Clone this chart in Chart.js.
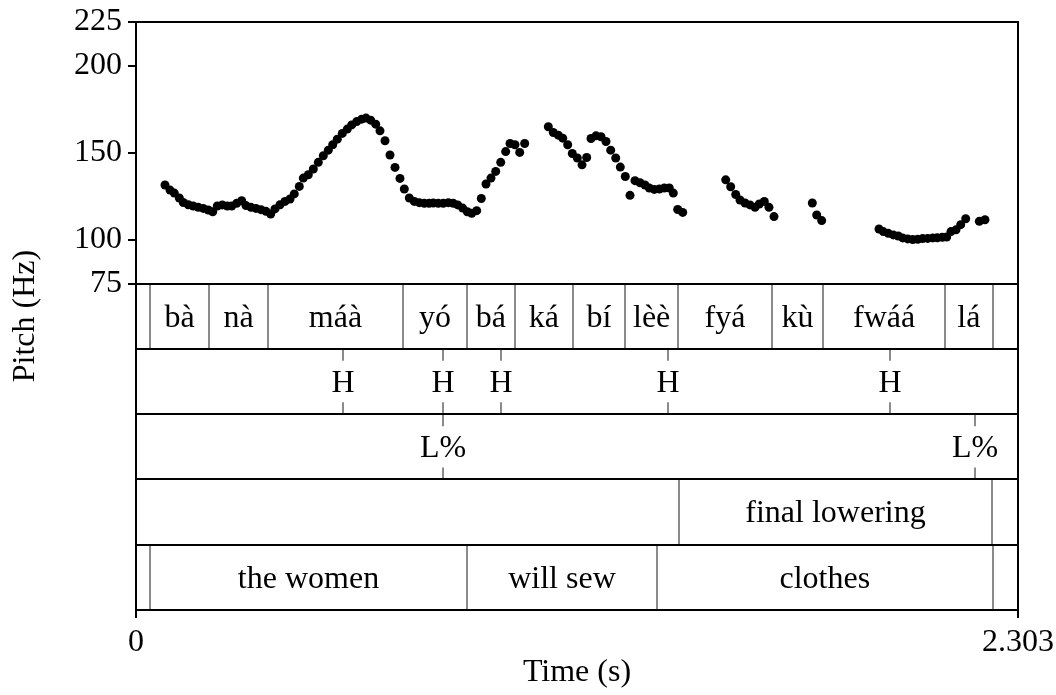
<!DOCTYPE html>
<html>
<head>
<meta charset="utf-8">
<script src="https://cdn.jsdelivr.net/npm/chart.js@4"></script>
<style>
  html, body { margin: 0; padding: 0; background: #fff; }
  #wrap { width: 1056px; height: 695px; }
</style>
</head>
<body>
<div id="wrap"><canvas id="pitchChart" width="1056" height="695"></canvas></div>
<script>
// pitch track (s, Hz)
const pitchTimes = [
  0.0757, 0.0888, 0.1000, 0.1131, 0.1235, 0.1366, 0.1496, 0.1627, 0.1757, 0.1888,
  0.2003, 0.2123, 0.2253, 0.2384, 0.2499, 0.2629, 0.2760, 0.2872, 0.3003, 0.3133,
  0.3264, 0.3394, 0.3517, 0.3629, 0.3760, 0.3891, 0.4021, 0.4133, 0.4264, 0.4368,
  0.4499, 0.4630, 0.4760, 0.4891, 0.5021, 0.5136, 0.5256, 0.5387, 0.5517, 0.5632,
  0.5763, 0.5893, 0.6006, 0.6128, 0.6259, 0.6371, 0.6502, 0.6632, 0.6763, 0.6893,
  0.7006, 0.7136, 0.7267, 0.7397, 0.7528, 0.7651, 0.7763, 0.7893, 0.8024, 0.8155,
  0.8285, 0.8400, 0.8530, 0.8651, 0.8766, 0.8896, 0.9016, 0.9139, 0.9269, 0.9392,
  0.9523, 0.9653, 0.9766, 0.9896, 1.0019, 1.0149,
  1.0766, 1.0896, 1.1027, 1.1142, 1.1272, 1.1392, 1.1523, 1.1646, 1.1768, 1.1881,
  1.2011, 1.2142, 1.2272, 1.2395, 1.2526, 1.2646, 1.2776, 1.2899, 1.3029, 1.3160,
  1.3291, 1.3403, 1.3533, 1.3664, 1.3795, 1.3925, 1.4030, 1.4144, 1.4275,
  1.5398, 1.5528, 1.5659, 1.5771, 1.5902, 1.6032, 1.6163, 1.6275, 1.6406, 1.6528, 1.6659,
  1.7659, 1.7774, 1.7904,
  1.9400, 1.9513, 1.9643, 1.9774, 1.9904, 2.0019, 2.0150, 2.0280, 2.0411, 2.0541,
  2.0672, 2.0803, 2.0923, 2.1053, 2.1168, 2.1280, 2.1411, 2.1534, 2.1664,
  2.2020, 2.2168
];
const pitchHz = [
  131.5, 128.6, 126.9, 124.1, 121.5, 120.2, 119.5, 118.7, 118.1, 117.2,
  116.2, 119.5, 120.1, 119.5, 119.5, 121.0, 122.5, 119.7, 118.7, 118.1,
  117.4, 116.4, 114.9, 117.8, 120.2, 122.1, 123.5, 126.4, 130.7, 135.5,
  137.4, 140.7, 144.5, 148.3, 151.5, 154.6, 157.8, 161.1, 163.6, 166.0,
  167.9, 169.3, 169.9, 168.7, 166.4, 162.6, 156.9, 148.7, 141.6, 135.3,
  129.2, 124.1, 122.1, 121.4, 121.0, 121.0, 121.2, 121.0, 121.0, 121.4,
  121.0, 120.1, 118.3, 116.2, 115.3, 116.8, 123.8, 132.1, 135.5, 139.3,
  144.5, 150.7, 155.3, 154.6, 150.2, 155.3,
  164.9, 161.6, 160.1, 158.4, 154.6, 149.6, 147.0, 143.1, 147.3, 158.2,
  159.7, 159.2, 156.5, 151.5, 147.0, 141.8, 136.4, 125.6, 134.0, 132.8,
  131.5, 129.8, 129.0, 129.2, 129.8, 129.8, 126.9, 117.5, 115.8,
  134.5, 130.5, 126.1, 122.9, 121.2, 120.1, 118.7, 120.6, 122.1, 118.7, 113.4,
  121.2, 114.3, 111.1,
  106.3, 104.8, 103.8, 102.9, 102.3, 101.2, 100.6, 100.2, 100.4, 100.8,
  100.9, 101.2, 101.3, 101.5, 101.7, 104.8, 105.8, 108.8, 112.2,
  110.7, 111.6
];

const yTicks = [75, 100, 150, 200, 225];
const xTicks = [0, 2.303];
const xTickLabels = ['0', '2.303'];

// tier 1: syllables (interval boundaries in s)
const syllableBounds = [0.0366, 0.1914, 0.3439, 0.6979, 0.8635, 0.9896, 1.1403, 1.2768, 1.4160, 1.6599, 1.7946, 2.1124, 2.2369];
const syllableLabels = ['bà', 'nà', 'máà', 'yó', 'bá', 'ká', 'bí', 'lèè', 'fyá', 'kù', 'fwáá', 'lá'];
// tier 2: tones (points)
const toneTimes = [0.5413, 0.8024, 0.9523, 1.3899, 1.9688];
const toneLabels = ['H', 'H', 'H', 'H', 'H'];
// tier 3: boundary tones (points)
const boundaryTimes = [0.8024, 2.1907];
const boundaryLabels = ['L%', 'L%'];
// tier 4: final lowering (interval)
const loweringBounds = [1.4170, 2.2360];
const loweringLabels = ['final lowering'];
// tier 5: gloss (intervals)
const glossBounds = [0.0366, 0.8642, 1.3604, 2.2369];
const glossLabels = ['the women', 'will sew', 'clothes'];

const FONT = 'Liberation Serif';
const FSIZE = 32;
const PITCH_MIN = 75, PITCH_MAX = 225;
const N_TIERS = 5;
// tiers take up this many Hz-units below 75 on the shared y axis
const TIER_SPAN = 187.2;

const tiers = [
  { type: 'interval', bounds: syllableBounds, labels: syllableLabels },
  { type: 'point', times: toneTimes, labels: toneLabels },
  { type: 'point', times: boundaryTimes, labels: boundaryLabels },
  { type: 'interval', bounds: loweringBounds, labels: loweringLabels },
  { type: 'interval', bounds: glossBounds, labels: glossLabels }
];

const tierPlugin = {
  id: 'tiers',
  afterDatasetsDraw(chart) {
    const { ctx, chartArea: a, scales: { x, y } } = chart;
    const top0 = y.getPixelForValue(PITCH_MIN);
    const h = (a.bottom - top0) / N_TIERS;
    ctx.save();
    ctx.font = FSIZE + 'px "' + FONT + '"';
    ctx.textAlign = 'center';
    ctx.textBaseline = 'middle';
    ctx.fillStyle = '#000';

    tiers.forEach((t, i) => {
      const t0 = top0 + i * h, t1 = t0 + h, mid = t0 + h / 2;
      ctx.strokeStyle = '#8a8a8a';
      ctx.lineWidth = 2;
      if (t.type === 'interval') {
        t.bounds.forEach(b => {
          const px = Math.round(x.getPixelForValue(b));
          ctx.beginPath(); ctx.moveTo(px, t0); ctx.lineTo(px, t1); ctx.stroke();
        });
        t.labels.forEach((lab, k) => {
          const cx = (x.getPixelForValue(t.bounds[k]) + x.getPixelForValue(t.bounds[k + 1])) / 2;
          ctx.fillText(lab, cx, mid + 2);
        });
      } else {
        t.times.forEach((tm, k) => {
          const px = Math.round(x.getPixelForValue(tm));
          ctx.beginPath(); ctx.moveTo(px, t0); ctx.lineTo(px, t0 + 12); ctx.stroke();
          ctx.beginPath(); ctx.moveTo(px, t1 - 12); ctx.lineTo(px, t1); ctx.stroke();
          ctx.fillText(t.labels[k], px, mid + 2);
        });
      }
    });

    // tier separators and frame
    ctx.strokeStyle = '#000';
    ctx.lineWidth = 2;
    for (let i = 0; i < N_TIERS; i++) {
      const yy = Math.round(top0 + i * h);
      ctx.beginPath(); ctx.moveTo(a.left, yy); ctx.lineTo(a.right, yy); ctx.stroke();
    }
    ctx.strokeRect(a.left, a.top, a.right - a.left, a.bottom - a.top);
    ctx.restore();
  }
};

const ctx = document.getElementById('pitchChart').getContext('2d');
new Chart(ctx, {
  type: 'scatter',
  data: {
    datasets: [{
      data: pitchTimes.map((t, i) => ({ x: t, y: pitchHz[i] })),
      pointRadius: 4.5,
      pointHoverRadius: 4.5,
      pointBackgroundColor: '#000',
      pointBorderColor: '#000',
      pointBorderWidth: 0,
      showLine: false
    }]
  },
  options: {
    responsive: false,
    animation: false,
    events: [],
    layout: { padding: { top: 22, right: 38, left: 0, bottom: 0 } },
    plugins: { legend: { display: false }, tooltip: { enabled: false } },
    scales: {
      x: {
        type: 'linear',
        min: 0,
        max: 2.303,
        afterBuildTicks: s => { s.ticks = xTicks.map(v => ({ value: v })); },
        afterFit: s => { s.height = 85; s.paddingLeft = 0; s.paddingRight = 0; },
        ticks: {
          autoSkip: false,
          maxRotation: 0,
          padding: 5,
          color: '#000',
          font: { family: FONT, size: FSIZE },
          callback: (v, i) => xTickLabels[i]
        },
        grid: { drawOnChartArea: false, drawTicks: true, tickLength: 8, color: '#000', lineWidth: 2 },
        border: { display: false },
        title: {
          display: true,
          text: 'Time (s)',
          color: '#000',
          font: { family: FONT, size: FSIZE },
          padding: { top: 0, bottom: 3 }
        }
      },
      y: {
        type: 'linear',
        min: PITCH_MIN - TIER_SPAN,
        max: PITCH_MAX,
        afterBuildTicks: s => { s.ticks = yTicks.map(v => ({ value: v })); },
        afterFit: s => { s.width = 136; s.paddingTop = 0; s.paddingBottom = 0; },
        ticks: {
          autoSkip: false,
          padding: 6,
          color: '#000',
          font: { family: FONT, size: FSIZE },
          callback: v => String(v)
        },
        grid: { drawOnChartArea: false, drawTicks: true, tickLength: 8, color: '#000', lineWidth: 2 },
        border: { display: false },
        title: {
          display: true,
          text: 'Pitch (Hz)',
          color: '#000',
          font: { family: FONT, size: FSIZE },
          padding: { top: 6, bottom: 0 }
        }
      }
    }
  },
  plugins: [tierPlugin]
});
</script>
</body>
</html>
